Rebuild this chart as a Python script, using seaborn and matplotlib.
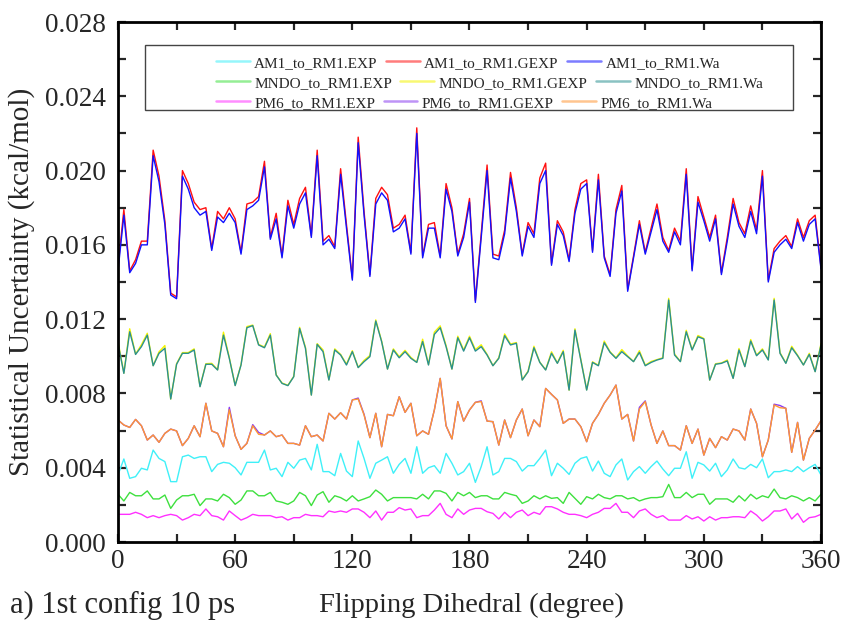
import numpy as np
import pandas as pd
import matplotlib
matplotlib.use("Agg")
import matplotlib.pyplot as plt
from matplotlib.patches import Rectangle
from matplotlib.ticker import MultipleLocator
import seaborn as sns

# ---------------- data ----------------
dihedral = list(range(0, 361, 3))

am1_exp = [0.00361, 0.00447, 0.00343, 0.00352, 0.00397, 0.00388, 0.00495, 0.00450, 0.00433, 0.00325, 0.00325, 0.00459, 0.00468, 0.00450, 0.00459, 0.00459, 0.00379, 0.00418, 0.00429, 0.00424, 0.00400, 0.00361, 0.00429, 0.00429, 0.00429,
           0.00495, 0.00388, 0.00397, 0.00352, 0.00429, 0.00397, 0.00441, 0.00450, 0.00388, 0.00526, 0.00379, 0.00379, 0.00357, 0.00477, 0.00382, 0.00352, 0.00544, 0.00450, 0.00343, 0.00424, 0.00441, 0.00459, 0.00370, 0.00418,
           0.00450, 0.00370, 0.00513, 0.00370, 0.00400, 0.00411, 0.00370, 0.00477, 0.00424, 0.00361, 0.00379, 0.00424, 0.00321, 0.00406, 0.00513, 0.00361, 0.00379, 0.00450, 0.00450, 0.00433, 0.00382, 0.00411, 0.00411, 0.00450,
           0.00495, 0.00357, 0.00424, 0.00397, 0.00364, 0.00424, 0.00450, 0.00459, 0.00382, 0.00436, 0.00370, 0.00352, 0.00415, 0.00447, 0.00334, 0.00379, 0.00406, 0.00370, 0.00406, 0.00436, 0.00393, 0.00357, 0.00397, 0.00397,
           0.00486, 0.00343, 0.00429, 0.00415, 0.00382, 0.00424, 0.00352, 0.00388, 0.00447, 0.00400, 0.00393, 0.00418, 0.00400, 0.00447, 0.00346, 0.00379, 0.00379, 0.00388, 0.00379, 0.00406, 0.00379, 0.00400, 0.00418, 0.00361]

am1_gexp = [0.0148, 0.0179, 0.0146, 0.0152, 0.0162, 0.0162, 0.0211, 0.0197, 0.0173, 0.0134, 0.0132, 0.0200, 0.0193, 0.0183, 0.0179, 0.0180, 0.0158, 0.0178, 0.0174, 0.0180, 0.0174, 0.0156, 0.0182, 0.0183, 0.0186,
            0.0205, 0.0164, 0.0177, 0.0154, 0.0184, 0.0171, 0.0185, 0.0191, 0.0165, 0.0211, 0.0162, 0.0165, 0.0159, 0.0201, 0.0171, 0.0142, 0.0218, 0.0178, 0.0144, 0.0185, 0.0191, 0.0187, 0.0169, 0.0171,
            0.0176, 0.0156, 0.0223, 0.0154, 0.0171, 0.0172, 0.0154, 0.0193, 0.0180, 0.0155, 0.0166, 0.0185, 0.0130, 0.0166, 0.0203, 0.0155, 0.0154, 0.0168, 0.0199, 0.0180, 0.0155, 0.0172, 0.0166, 0.0196,
            0.0204, 0.0150, 0.0173, 0.0167, 0.0152, 0.0179, 0.0193, 0.0195, 0.0157, 0.0198, 0.0154, 0.0144, 0.0179, 0.0192, 0.0136, 0.0154, 0.0173, 0.0156, 0.0169, 0.0182, 0.0164, 0.0157, 0.0169, 0.0162,
            0.0201, 0.0147, 0.0186, 0.0175, 0.0164, 0.0176, 0.0145, 0.0164, 0.0185, 0.0172, 0.0166, 0.0181, 0.0168, 0.0200, 0.0141, 0.0158, 0.0162, 0.0165, 0.0159, 0.0174, 0.0164, 0.0173, 0.0176, 0.0148]

am1_wa = [0.0146, 0.0176, 0.0145, 0.0150, 0.0160, 0.0160, 0.0208, 0.0194, 0.0171, 0.0133, 0.0131, 0.0197, 0.0190, 0.0180, 0.0176, 0.0178, 0.0157, 0.0175, 0.0172, 0.0177, 0.0172, 0.0155, 0.0179, 0.0181, 0.0184,
          0.0202, 0.0163, 0.0174, 0.0153, 0.0181, 0.0169, 0.0182, 0.0188, 0.0164, 0.0208, 0.0160, 0.0163, 0.0158, 0.0198, 0.0169, 0.0141, 0.0215, 0.0176, 0.0143, 0.0182, 0.0188, 0.0184, 0.0167, 0.0169,
          0.0174, 0.0155, 0.0220, 0.0153, 0.0169, 0.0169, 0.0153, 0.0190, 0.0178, 0.0154, 0.0164, 0.0183, 0.0129, 0.0164, 0.0200, 0.0153, 0.0152, 0.0166, 0.0196, 0.0178, 0.0154, 0.0170, 0.0164, 0.0193,
          0.0200, 0.0149, 0.0171, 0.0165, 0.0151, 0.0177, 0.0190, 0.0193, 0.0156, 0.0195, 0.0153, 0.0143, 0.0177, 0.0189, 0.0135, 0.0153, 0.0171, 0.0155, 0.0167, 0.0179, 0.0162, 0.0156, 0.0167, 0.0160,
          0.0198, 0.0146, 0.0183, 0.0173, 0.0162, 0.0174, 0.0144, 0.0162, 0.0182, 0.0170, 0.0164, 0.0178, 0.0166, 0.0197, 0.0140, 0.0156, 0.0160, 0.0163, 0.0158, 0.0172, 0.0162, 0.0171, 0.0174, 0.0147]

mndo_exp = [0.00257, 0.00221, 0.00267, 0.00249, 0.00249, 0.00275, 0.00232, 0.00232, 0.00253, 0.00181, 0.00226, 0.00249, 0.00249, 0.00257, 0.00196, 0.00232, 0.00232, 0.00221, 0.00257, 0.00239, 0.00203, 0.00226, 0.00275, 0.00275, 0.00249,
            0.00249, 0.00267, 0.00221, 0.00214, 0.00203, 0.00221, 0.00267, 0.00249, 0.00196, 0.00253, 0.00271, 0.00214, 0.00249, 0.00239, 0.00221, 0.00249, 0.00221, 0.00232, 0.00244, 0.00280, 0.00257, 0.00221, 0.00239, 0.00239,
            0.00239, 0.00239, 0.00232, 0.00257, 0.00232, 0.00275, 0.00275, 0.00262, 0.00221, 0.00267, 0.00249, 0.00267, 0.00239, 0.00249, 0.00249, 0.00232, 0.00232, 0.00267, 0.00257, 0.00249, 0.00208, 0.00221, 0.00249, 0.00232,
            0.00249, 0.00235, 0.00239, 0.00208, 0.00267, 0.00235, 0.00203, 0.00244, 0.00232, 0.00257, 0.00239, 0.00232, 0.00249, 0.00249, 0.00232, 0.00239, 0.00221, 0.00232, 0.00239, 0.00239, 0.00244, 0.00310, 0.00239, 0.00239,
            0.00267, 0.00239, 0.00257, 0.00257, 0.00203, 0.00232, 0.00232, 0.00232, 0.00214, 0.00249, 0.00221, 0.00257, 0.00232, 0.00249, 0.00239, 0.00285, 0.00239, 0.00232, 0.00249, 0.00239, 0.00221, 0.00239, 0.00221, 0.00257]

mndo_gexp = [0.01080, 0.00910, 0.01148, 0.01012, 0.01062, 0.01124, 0.00950, 0.01024, 0.01058, 0.00770, 0.00960, 0.01020, 0.01020, 0.01040, 0.00838, 0.00960, 0.00962, 0.00928, 0.01130, 0.00992, 0.00844, 0.00955, 0.01160, 0.01168, 0.01064,
             0.01050, 0.01122, 0.00900, 0.00856, 0.00844, 0.00892, 0.01156, 0.01048, 0.00792, 0.01068, 0.01034, 0.00874, 0.01040, 0.01010, 0.00958, 0.01030, 0.00940, 0.00978, 0.01004, 0.01196, 0.01082, 0.00932, 0.01040, 0.00998,
             0.01032, 0.00994, 0.00968, 0.01092, 0.00956, 0.01130, 0.01164, 0.01058, 0.00932, 0.01108, 0.01034, 0.01108, 0.01036, 0.01062, 0.01010, 0.00950, 0.00992, 0.01120, 0.01066, 0.01074, 0.00874, 0.00920, 0.01054, 0.00968,
             0.00928, 0.01024, 0.00964, 0.01032, 0.00818, 0.01148, 0.00984, 0.00820, 0.00970, 0.00952, 0.01082, 0.01024, 0.00992, 0.01036, 0.01002, 0.00972, 0.01030, 0.00952, 0.00972, 0.00982, 0.00992, 0.01312, 0.01012, 0.00972,
             0.01140, 0.01036, 0.01112, 0.01096, 0.00872, 0.00960, 0.00964, 0.00980, 0.00882, 0.01042, 0.00946, 0.01090, 0.01006, 0.01040, 0.00982, 0.01312, 0.01020, 0.00964, 0.01054, 0.01006, 0.00954, 0.01016, 0.00918, 0.01068]

mndo_wa = [0.01070, 0.00908, 0.01132, 0.01010, 0.01052, 0.01114, 0.00949, 0.01016, 0.01043, 0.00770, 0.00957, 0.01016, 0.01016, 0.01034, 0.00836, 0.00957, 0.00957, 0.00926, 0.01114, 0.00989, 0.00842, 0.00953, 0.01154, 0.01165, 0.01061,
           0.01046, 0.01114, 0.00899, 0.00854, 0.00842, 0.00890, 0.01150, 0.01043, 0.00791, 0.01064, 0.01025, 0.00872, 0.01034, 0.01007, 0.00953, 0.01025, 0.00939, 0.00971, 0.00998, 0.01190, 0.01079, 0.00931, 0.01034, 0.00992,
           0.01025, 0.00989, 0.00967, 0.01079, 0.00953, 0.01118, 0.01154, 0.01052, 0.00931, 0.01100, 0.01028, 0.01100, 0.01028, 0.01052, 0.01007, 0.00949, 0.00989, 0.01111, 0.01061, 0.01070, 0.00872, 0.00917, 0.01046, 0.00967,
           0.00926, 0.01016, 0.00962, 0.01025, 0.00818, 0.01141, 0.00980, 0.00818, 0.00967, 0.00949, 0.01073, 0.01021, 0.00989, 0.01025, 0.00998, 0.00971, 0.01021, 0.00949, 0.00967, 0.00980, 0.00989, 0.01303, 0.01007, 0.00971,
           0.01132, 0.01034, 0.01105, 0.01093, 0.00872, 0.00957, 0.00962, 0.00975, 0.00881, 0.01034, 0.00944, 0.01082, 0.01003, 0.01034, 0.00980, 0.01303, 0.01016, 0.00962, 0.01046, 0.01003, 0.00953, 0.01010, 0.00917, 0.01061]

pm6_exp = [0.00149, 0.00149, 0.00149, 0.00160, 0.00149, 0.00131, 0.00142, 0.00131, 0.00142, 0.00149, 0.00142, 0.00118, 0.00131, 0.00149, 0.00142, 0.00178, 0.00142, 0.00136, 0.00118, 0.00167, 0.00142, 0.00118, 0.00131, 0.00149, 0.00142,
           0.00142, 0.00142, 0.00131, 0.00136, 0.00118, 0.00131, 0.00131, 0.00149, 0.00142, 0.00142, 0.00136, 0.00167, 0.00160, 0.00167, 0.00160, 0.00178, 0.00178, 0.00160, 0.00131, 0.00167, 0.00118, 0.00160, 0.00160, 0.00185,
           0.00172, 0.00178, 0.00131, 0.00142, 0.00142, 0.00172, 0.00208, 0.00149, 0.00131, 0.00178, 0.00149, 0.00172, 0.00181, 0.00181, 0.00163, 0.00154, 0.00124, 0.00160, 0.00131, 0.00160, 0.00172, 0.00142, 0.00160, 0.00149,
           0.00190, 0.00190, 0.00178, 0.00160, 0.00149, 0.00149, 0.00142, 0.00131, 0.00149, 0.00160, 0.00181, 0.00181, 0.00208, 0.00160, 0.00160, 0.00131, 0.00167, 0.00178, 0.00149, 0.00131, 0.00142, 0.00118, 0.00118, 0.00118,
           0.00142, 0.00124, 0.00136, 0.00113, 0.00136, 0.00118, 0.00131, 0.00131, 0.00136, 0.00136, 0.00131, 0.00167, 0.00145, 0.00113, 0.00136, 0.00167, 0.00167, 0.00178, 0.00124, 0.00154, 0.00106, 0.00131, 0.00136, 0.00149]

pm6_gexp = [0.00657, 0.00630, 0.00617, 0.00660, 0.00626, 0.00549, 0.00576, 0.00537, 0.00585, 0.00608, 0.00598, 0.00519, 0.00558, 0.00626, 0.00567, 0.00747, 0.00598, 0.00585, 0.00513, 0.00725, 0.00572, 0.00499, 0.00531, 0.00632, 0.00590,
            0.00576, 0.00598, 0.00567, 0.00576, 0.00531, 0.00531, 0.00522, 0.00626, 0.00567, 0.00576, 0.00544, 0.00693, 0.00662, 0.00696, 0.00662, 0.00765, 0.00775, 0.00688, 0.00562, 0.00693, 0.00513, 0.00687, 0.00680, 0.00782,
            0.00698, 0.00747, 0.00572, 0.00598, 0.00580, 0.00711, 0.00881, 0.00626, 0.00555, 0.00756, 0.00651, 0.00711, 0.00752, 0.00760, 0.00651, 0.00648, 0.00522, 0.00657, 0.00562, 0.00657, 0.00716, 0.00572, 0.00657, 0.00621,
            0.00827, 0.00795, 0.00765, 0.00639, 0.00662, 0.00662, 0.00621, 0.00540, 0.00639, 0.00687, 0.00747, 0.00791, 0.00845, 0.00662, 0.00687, 0.00544, 0.00725, 0.00760, 0.00630, 0.00531, 0.00598, 0.00519, 0.00519, 0.00495,
            0.00626, 0.00531, 0.00608, 0.00468, 0.00558, 0.00508, 0.00567, 0.00549, 0.00608, 0.00598, 0.00549, 0.00716, 0.00639, 0.00459, 0.00549, 0.00742, 0.00735, 0.00720, 0.00483, 0.00644, 0.00441, 0.00558, 0.00603, 0.00653]

pm6_wa = [0.00657, 0.00630, 0.00617, 0.00660, 0.00626, 0.00549, 0.00576, 0.00537, 0.00585, 0.00608, 0.00598, 0.00519, 0.00558, 0.00626, 0.00567, 0.00747, 0.00598, 0.00585, 0.00513, 0.00712, 0.00572, 0.00499, 0.00531, 0.00626, 0.00580,
          0.00576, 0.00598, 0.00567, 0.00576, 0.00531, 0.00531, 0.00522, 0.00626, 0.00567, 0.00576, 0.00544, 0.00693, 0.00662, 0.00696, 0.00662, 0.00765, 0.00770, 0.00684, 0.00562, 0.00693, 0.00513, 0.00687, 0.00680, 0.00782,
          0.00698, 0.00747, 0.00572, 0.00598, 0.00580, 0.00711, 0.00881, 0.00626, 0.00555, 0.00756, 0.00651, 0.00711, 0.00752, 0.00756, 0.00651, 0.00648, 0.00522, 0.00657, 0.00562, 0.00657, 0.00716, 0.00572, 0.00657, 0.00621,
          0.00827, 0.00795, 0.00765, 0.00639, 0.00662, 0.00662, 0.00621, 0.00540, 0.00639, 0.00687, 0.00747, 0.00791, 0.00845, 0.00662, 0.00687, 0.00544, 0.00716, 0.00756, 0.00630, 0.00531, 0.00598, 0.00519, 0.00519, 0.00495,
          0.00626, 0.00531, 0.00608, 0.00468, 0.00558, 0.00508, 0.00567, 0.00549, 0.00608, 0.00598, 0.00549, 0.00716, 0.00639, 0.00459, 0.00549, 0.00738, 0.00723, 0.00720, 0.00483, 0.00644, 0.00441, 0.00558, 0.00603, 0.00653]

# drawing order (GEXP under Wa) and legend rows
series_names = ["AM1_to_RM1.EXP", "MNDO_to_RM1.EXP", "PM6_to_RM1.EXP",
                "AM1_to_RM1.GEXP", "MNDO_to_RM1.GEXP", "PM6_to_RM1.GEXP",
                "AM1_to_RM1.Wa", "MNDO_to_RM1.Wa", "PM6_to_RM1.Wa"]
series_values = [am1_exp, mndo_exp, pm6_exp,
                 am1_gexp, mndo_gexp, pm6_gexp,
                 am1_wa, mndo_wa, pm6_wa]
series_colors = ["#3ff0f8", "#3ee03e", "#ff30ff",
                 "#ff1010", "#f4f400", "#8a3cf0",
                 "#1010ff", "#2a9090", "#ff9633"]
legend_rows = [["AM1_to_RM1.EXP", "AM1_to_RM1.GEXP", "AM1_to_RM1.Wa"],
               ["MNDO_to_RM1.EXP", "MNDO_to_RM1.GEXP", "MNDO_to_RM1.Wa"],
               ["PM6_to_RM1.EXP", "PM6_to_RM1.GEXP", "PM6_to_RM1.Wa"]]

x_ticks = [0, 60, 120, 180, 240, 300, 360]
y_ticks = [0.000, 0.004, 0.008, 0.012, 0.016, 0.020, 0.024, 0.028]

# ---------------- style ----------------
sns.set_theme(style="ticks")
plt.rcParams["font.family"] = ["Liberation Serif", "DejaVu Serif"]

fig = plt.figure(figsize=(8.45, 6.2), dpi=100)
ax = fig.add_axes([118 / 845, 78 / 620, 703 / 845, 520 / 620])

for name, vals, col in zip(series_names, series_values, series_colors):
    df = pd.DataFrame({"x": dihedral, "y": vals})
    sns.lineplot(data=df, x="x", y="y", ax=ax, color=col, linewidth=1.0,
                 label=name, legend=False)

ax.set_xlim(0, 360)
ax.set_ylim(0, 0.028)
ax.set_xticks(x_ticks)
ax.set_xticklabels([str(v) for v in x_ticks])
ax.set_yticks(y_ticks)
ax.set_yticklabels([f"{v:.3f}" for v in y_ticks])
ax.xaxis.set_minor_locator(MultipleLocator(30))
ax.yaxis.set_minor_locator(MultipleLocator(0.002))
ax.tick_params(axis="both", which="major", direction="in", length=6, width=1.6,
               labelsize=19.5, top=True, right=True)
ax.tick_params(axis="x", which="major", pad=5)
ax.tick_params(axis="y", which="major", pad=9)
ax.tick_params(which="minor", direction="in", length=6, width=1.6,
               top=True, right=True)
for s in ax.spines.values():
    s.set_linewidth(2.0)
    s.set_color("black")

ax.set_xlabel("")
ax.set_ylabel("Statistical Uncertainty (kcal/mol)", fontsize=21)
ax.yaxis.label.set_va("center")
ax.yaxis.set_label_coords((22 - 118) / 703, 0.5)
fig.text(471 / 845, 1 - 605 / 620, "Flipping Dihedral (degree)", fontsize=20.5,
         ha="center", va="center")
fig.text(10 / 845, 1 - 605 / 620, "a) 1st config 10 ps", fontsize=22,
         ha="left", va="center")

# legend: three independent rows, laid out left to right
h, l = ax.get_legend_handles_labels()
hmap = dict(zip(l, h))
row_y = [63, 83, 103]
for names, yy in zip(legend_rows, row_y):
    leg = fig.legend([hmap[n] for n in names], names, ncol=3, frameon=False,
                     fontsize=11, loc="center left",
                     bbox_to_anchor=(216 / 845, 1 - yy / 620),
                     handlelength=2.2, handletextpad=0.3, columnspacing=0.55,
                     borderpad=0, borderaxespad=0)
    for line in leg.get_lines():
        line.set_alpha(0.55)
        line.set_linewidth(1.8)
ax.add_patch(Rectangle(((145 - 118) / 703, (542 - 110) / 520),
                       (793 - 145) / 703, 65 / 520, transform=ax.transAxes,
                       fill=False, edgecolor="#444444", linewidth=1.0,
                       zorder=5))

fig.savefig("out.png", dpi=100)
